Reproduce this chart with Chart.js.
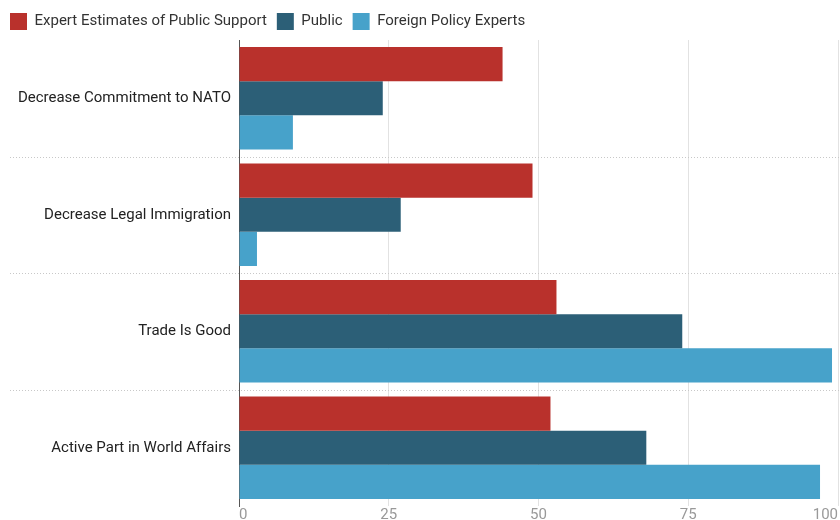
<!DOCTYPE html>
<html>
<head>
<meta charset="utf-8">
<script src="https://cdn.jsdelivr.net/npm/chart.js@4.4.1/dist/chart.umd.min.js"></script>
<style>
  html, body { margin: 0; padding: 0; background: #fff; }
  #wrap { width: 840px; height: 520px; position: relative; }
</style>
</head>
<body>
<div id="wrap"><canvas id="c"></canvas></div>
<script>
// Data
const categories = [
  'Decrease Commitment to NATO',
  'Decrease Legal Immigration',
  'Trade Is Good',
  'Active Part in World Affairs'
];
const expertEstimates = [44, 49, 53, 52];
const publicValues    = [24, 27, 74, 68];
const policyExperts   = [9, 3, 99, 97];
const xTicks = [0, 25, 50, 75, 100];

const FONT = "Roboto, 'Noto Sans', sans-serif";

// dotted separators between categories, running across the label area too
const separators = {
  id: 'separators',
  beforeDatasetsDraw(chart) {
    const y = chart.scales.y;
    const ctx = chart.ctx;
    ctx.save();
    ctx.strokeStyle = '#c8c8c8';
    ctx.lineWidth = 1;
    ctx.setLineDash([1, 2]);
    for (let i = 0; i < categories.length - 1; i++) {
      const py = Math.round((y.getPixelForValue(i) + y.getPixelForValue(i + 1)) / 2) + 0.5;
      ctx.beginPath();
      ctx.moveTo(10, py);
      ctx.lineTo(chart.width, py);
      ctx.stroke();
    }
    ctx.restore();
  }
};

new Chart(document.getElementById('c'), {
  type: 'bar',
  data: {
    labels: categories,
    datasets: [
      { label: 'Expert Estimates of Public Support', data: expertEstimates, backgroundColor: '#b9312c' },
      { label: 'Public', data: publicValues, backgroundColor: '#2c5f77' },
      { label: 'Foreign Policy Experts', data: policyExperts, backgroundColor: '#47a2ca' }
    ]
  },
  options: {
    indexAxis: 'y',
    responsive: true,
    maintainAspectRatio: false,
    animation: false,
    layout: { padding: { left: 0, right: 2, top: 3, bottom: 0 } },
    datasets: { bar: { barPercentage: 1, categoryPercentage: 0.88 } },
    plugins: {
      legend: {
        align: 'start',
        labels: {
          boxWidth: 17,
          boxHeight: 17,
          padding: 10,
          color: '#333',
          font: { family: FONT, size: 15 }
        }
      },
      tooltip: { enabled: false }
    },
    scales: {
      x: {
        min: 0,
        max: 100,
        afterBuildTicks: (s) => { s.ticks = xTicks.map(v => ({ value: v })); },
        afterFit: (s) => { s.height = 14; },
        border: { display: false },
        grid: { color: '#e2e2e2', drawTicks: false },
        ticks: { color: '#999', align: 'inner', padding: 0, font: { family: FONT, size: 15 } }
      },
      y: {
        afterFit: (s) => { s.width = 239; },
        border: { display: true, color: '#555', width: 1 },
        grid: { display: false },
        ticks: { color: '#222', padding: 0, font: { family: FONT, size: 15 } }
      }
    }
  },
  plugins: [separators]
});
</script>
</body>
</html>
